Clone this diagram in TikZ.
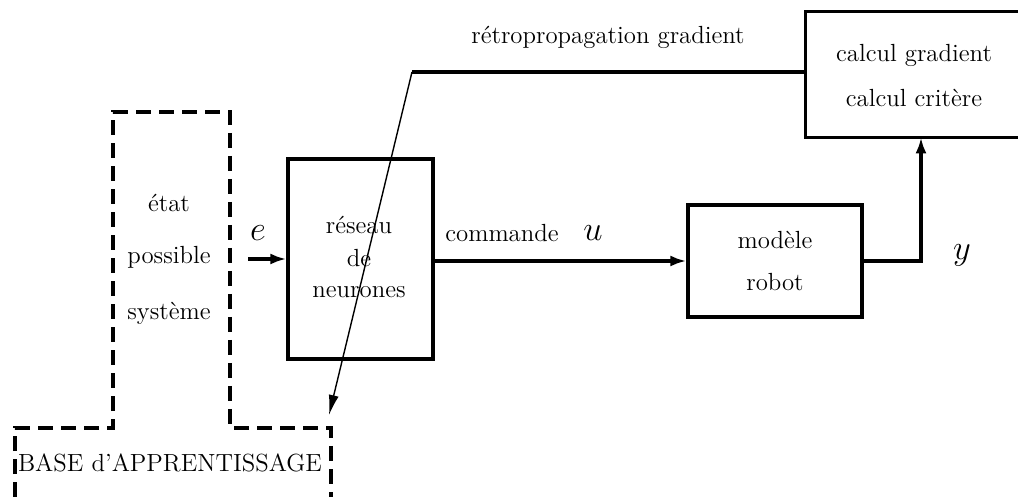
\documentclass[tikz,border=0pt]{standalone}
\usetikzlibrary{arrows.meta}
\begin{document}
\begin{tikzpicture}[x=0.5pt,y=-0.5pt,
  box/.style={draw,line width=1.6pt,inner sep=0pt},
  txt/.style={inner sep=0pt,font=\fontsize{12.4}{14}\selectfont},
  mlab/.style={inner sep=0pt,font=\fontsize{16}{18}\selectfont},
  thickline/.style={line width=1.6pt},
  thinline/.style={line width=0.7pt},
  dashbox/.style={line width=1.6pt,dash pattern=on 7.5pt off 4pt},
  tip/.style={-{Latex[length=8pt,width=5.5pt]}},
  thintip/.style={-{Latex[length=10pt,width=5pt]}}]
\useasboundingbox (0,0) rectangle (1018,497);

% dashed learning base
\draw[dashbox] (15,497) -- (15,428) -- (113,428) -- (113,112) -- (230,112) -- (230,428) -- (331,428) -- (331,497);
\node[txt] (etat) at (169,203) {état};
\node[txt] (poss) at (169,257) {possible};
\node[txt] (syst) at (169,313) {système};
\node[txt] (base) at (170,463) {BASE d’APPRENTISSAGE};

% boxes
\node[box,minimum width=72.5pt,minimum height=100pt] (res) at (360.5,259) {};
\node[txt] (res1) at (359,225) {réseau};
\node[txt] (res2) at (359,258) {de};
\node[txt] (res3) at (359,292) {neurones};

\node[box,minimum width=87pt,minimum height=56pt] (mod) at (775,261) {};
\node[txt] (mod1) at (775,240) {modèle};
\node[txt] (mod2) at (775,282) {robot};

% calcul box, cut by the right edge of the picture
\node[inner sep=0pt,minimum width=110pt,minimum height=62.5pt] (calc) at (916,74.5) {};
\draw[thickline] (calc.north east) -- (calc.north west) -- (calc.south west) -- (calc.south east);
\node[txt] (calc1) at (914,55) {calcul gradient};
\node[txt] (calc2) at (914,98) {calcul critère};

% labels
\node[mlab] (le) at (258,233) {$e$};
\node[txt] (lcom) at (502,233) {commande};
\node[mlab] (lu) at (593,233) {$u$};
\node[mlab] (ly) at (962,255) {$y$};
\node[txt] (lretro) at (608,37) {rétropropagation gradient};

% connectors
\coordinate (ein) at (248,259);
\draw[thickline,tip] (ein) -- (res.west);
\draw[thickline,tip] (res.east |- mod.west) -- (mod.west);
\coordinate (yc) at (921,261);
\draw[thickline,tip] (mod.east) -- (yc) -- (yc |- calc.south);
\coordinate (rc) at (412,72);
\coordinate (rtip) at (329,415);
\draw[thickline] (calc.west |- rc) -- (rc);
\draw[thinline,thintip] (rc) -- (rtip);
\end{tikzpicture}
\end{document}
